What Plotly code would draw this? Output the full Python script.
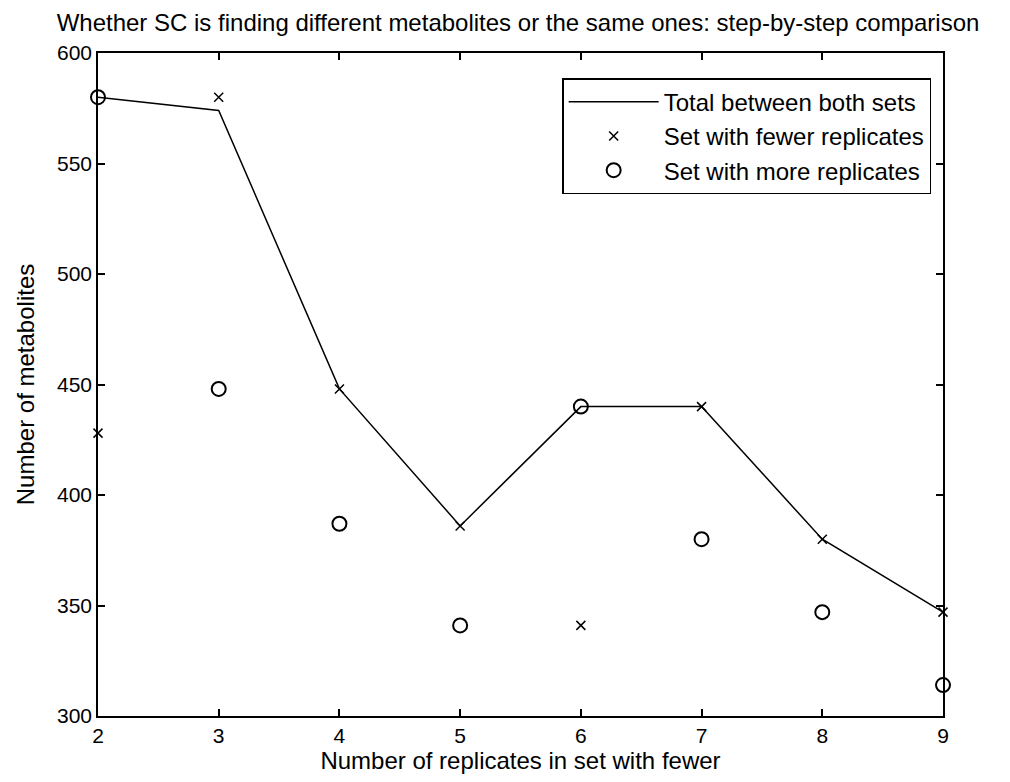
import plotly.graph_objects as go

replicates = [2, 3, 4, 5, 6, 7, 8, 9]
total_both = [580, 574, 448, 386, 440, 440, 380, 347]
fewer_set = [428, 580, 448, 386, 341, 440, 380, 347]
more_set = [580, 448, 387, 341, 440, 380, 347, 314]

FONT = "Liberation Sans, Arial, sans-serif"

fig = go.Figure()
fig.add_trace(go.Scatter(
    x=replicates, y=total_both, mode="lines", name="Total between both sets",
    line=dict(color="black", width=1.5), cliponaxis=False))
fig.add_trace(go.Scatter(
    x=replicates, y=fewer_set, mode="markers", name="Set with fewer replicates",
    marker=dict(symbol="x-thin-open", size=9, color="black", line=dict(color="black", width=1.5)),
    cliponaxis=False))
fig.add_trace(go.Scatter(
    x=replicates, y=more_set, mode="markers", name="Set with more replicates",
    marker=dict(symbol="circle-open", size=14, color="black", line=dict(color="black", width=2)),
    cliponaxis=False))

axis_common = dict(
    showline=True, linecolor="black", linewidth=1.5, mirror="ticks",
    ticks="inside", ticklen=7, tickwidth=1.5, tickcolor="black",
    showgrid=False, zeroline=False,
    tickfont=dict(family=FONT, size=21, color="black"),
)

W, H = 994, 766
fig.update_layout(
    width=W, height=H,
    paper_bgcolor="white", plot_bgcolor="white",
    margin=dict(l=90, r=59, t=45, b=58, autoexpand=False),
    title=dict(text="Whether SC is finding different metabolites or the same ones: step-by-step comparison",
               xref="container", yref="container",
               x=510 / W, xanchor="center", y=1 - 15 / H, yanchor="middle",
               font=dict(family=FONT, size=24, color="black")),
    xaxis=dict(range=[2, 9], tickmode="array", tickvals=replicates,
               title=dict(text="Number of replicates in set with fewer", standoff=5,
                          font=dict(family=FONT, size=24, color="black")),
               **axis_common),
    yaxis=dict(range=[300, 600], tickmode="linear", tick0=300, dtick=50,
               title=dict(text="Number of metabolites", standoff=16,
                          font=dict(family=FONT, size=24, color="black")),
               **axis_common),
    legend=dict(x=0.986, y=0.962, xanchor="right", yanchor="top",
                bgcolor="white", bordercolor="black", borderwidth=1.5,
                font=dict(family=FONT, size=24, color="black"),
                itemwidth=90, tracegroupgap=0),
    showlegend=True,
)

fig.write_html("out.html")
